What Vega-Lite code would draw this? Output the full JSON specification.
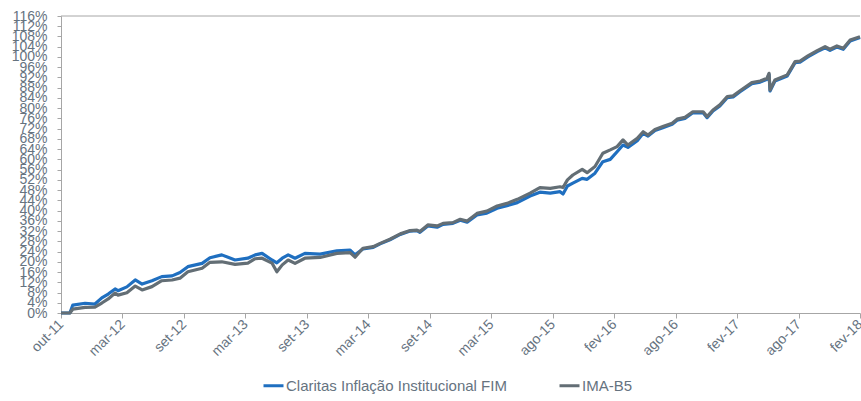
{
  "$schema": "https://vega.github.io/schema/vega-lite/v6.json",
  "width": 799,
  "height": 297,
  "autosize": {"type": "none"},
  "padding": {"left": 61, "top": 16, "right": 1, "bottom": 88},
  "background": "white",
  "config": {
    "view": {"stroke": null},
    "font": "Liberation Sans",
    "axis": {"grid": false, "domainColor": "#a6a6a6", "tickColor": "#a6a6a6", "labelColor": "#66737f", "labelFont": "Liberation Sans", "labelFontSize": 14, "title": null}
  },
  "datasets": {
    "series": [
      {"d": 0, "s": "Claritas Inflação Institucional FIM", "v": 0},
      {"d": 18, "s": "Claritas Inflação Institucional FIM", "v": 0},
      {"d": 24, "s": "Claritas Inflação Institucional FIM", "v": 3.1},
      {"d": 49, "s": "Claritas Inflação Institucional FIM", "v": 3.8},
      {"d": 69, "s": "Claritas Inflação Institucional FIM", "v": 3.5},
      {"d": 83, "s": "Claritas Inflação Institucional FIM", "v": 5.9},
      {"d": 96, "s": "Claritas Inflação Institucional FIM", "v": 7.4},
      {"d": 110, "s": "Claritas Inflação Institucional FIM", "v": 9.4},
      {"d": 116, "s": "Claritas Inflação Institucional FIM", "v": 8.7},
      {"d": 134, "s": "Claritas Inflação Institucional FIM", "v": 10.2},
      {"d": 151, "s": "Claritas Inflação Institucional FIM", "v": 12.9},
      {"d": 165, "s": "Claritas Inflação Institucional FIM", "v": 11.3},
      {"d": 185, "s": "Claritas Inflação Institucional FIM", "v": 12.6},
      {"d": 205, "s": "Claritas Inflação Institucional FIM", "v": 14.2},
      {"d": 226, "s": "Claritas Inflação Institucional FIM", "v": 14.5},
      {"d": 242, "s": "Claritas Inflação Institucional FIM", "v": 15.8},
      {"d": 258, "s": "Claritas Inflação Institucional FIM", "v": 18.1},
      {"d": 287, "s": "Claritas Inflação Institucional FIM", "v": 19.4},
      {"d": 303, "s": "Claritas Inflação Institucional FIM", "v": 21.6},
      {"d": 327, "s": "Claritas Inflação Institucional FIM", "v": 22.7},
      {"d": 354, "s": "Claritas Inflação Institucional FIM", "v": 20.7},
      {"d": 380, "s": "Claritas Inflação Institucional FIM", "v": 21.4},
      {"d": 395, "s": "Claritas Inflação Institucional FIM", "v": 22.7},
      {"d": 409, "s": "Claritas Inflação Institucional FIM", "v": 23.3},
      {"d": 429, "s": "Claritas Inflação Institucional FIM", "v": 20.7},
      {"d": 439, "s": "Claritas Inflação Institucional FIM", "v": 19.6},
      {"d": 450, "s": "Claritas Inflação Institucional FIM", "v": 21.4},
      {"d": 462, "s": "Claritas Inflação Institucional FIM", "v": 22.7},
      {"d": 476, "s": "Claritas Inflação Institucional FIM", "v": 21.4},
      {"d": 496, "s": "Claritas Inflação Institucional FIM", "v": 23.3},
      {"d": 527, "s": "Claritas Inflação Institucional FIM", "v": 23.0},
      {"d": 561, "s": "Claritas Inflação Institucional FIM", "v": 24.3},
      {"d": 588, "s": "Claritas Inflação Institucional FIM", "v": 24.6},
      {"d": 598, "s": "Claritas Inflação Institucional FIM", "v": 22.7},
      {"d": 614, "s": "Claritas Inflação Institucional FIM", "v": 25.0},
      {"d": 635, "s": "Claritas Inflação Institucional FIM", "v": 25.6},
      {"d": 649, "s": "Claritas Inflação Institucional FIM", "v": 27.0},
      {"d": 669, "s": "Claritas Inflação Institucional FIM", "v": 28.6},
      {"d": 690, "s": "Claritas Inflação Institucional FIM", "v": 30.7},
      {"d": 710, "s": "Claritas Inflação Institucional FIM", "v": 32.0},
      {"d": 724, "s": "Claritas Inflação Institucional FIM", "v": 32.2},
      {"d": 730, "s": "Claritas Inflação Institucional FIM", "v": 31.5},
      {"d": 746, "s": "Claritas Inflação Institucional FIM", "v": 34.0},
      {"d": 765, "s": "Claritas Inflação Institucional FIM", "v": 33.5},
      {"d": 777, "s": "Claritas Inflação Institucional FIM", "v": 34.6},
      {"d": 797, "s": "Claritas Inflação Institucional FIM", "v": 35.0},
      {"d": 812, "s": "Claritas Inflação Institucional FIM", "v": 36.2},
      {"d": 826, "s": "Claritas Inflação Institucional FIM", "v": 35.5},
      {"d": 846, "s": "Claritas Inflação Institucional FIM", "v": 38.3},
      {"d": 866, "s": "Claritas Inflação Institucional FIM", "v": 39.0},
      {"d": 887, "s": "Claritas Inflação Institucional FIM", "v": 40.9},
      {"d": 907, "s": "Claritas Inflação Institucional FIM", "v": 41.9},
      {"d": 928, "s": "Claritas Inflação Institucional FIM", "v": 43.1},
      {"d": 954, "s": "Claritas Inflação Institucional FIM", "v": 45.7},
      {"d": 974, "s": "Claritas Inflação Institucional FIM", "v": 47.2},
      {"d": 995, "s": "Claritas Inflação Institucional FIM", "v": 46.8},
      {"d": 1015, "s": "Claritas Inflação Institucional FIM", "v": 47.4},
      {"d": 1021, "s": "Claritas Inflação Institucional FIM", "v": 46.5},
      {"d": 1030, "s": "Claritas Inflação Institucional FIM", "v": 49.6},
      {"d": 1041, "s": "Claritas Inflação Institucional FIM", "v": 50.7},
      {"d": 1060, "s": "Claritas Inflação Institucional FIM", "v": 52.6},
      {"d": 1070, "s": "Claritas Inflação Institucional FIM", "v": 52.2},
      {"d": 1086, "s": "Claritas Inflação Institucional FIM", "v": 54.6},
      {"d": 1102, "s": "Claritas Inflação Institucional FIM", "v": 59.1},
      {"d": 1117, "s": "Claritas Inflação Institucional FIM", "v": 60.0},
      {"d": 1131, "s": "Claritas Inflação Institucional FIM", "v": 63.0},
      {"d": 1143, "s": "Claritas Inflação Institucional FIM", "v": 65.6},
      {"d": 1153, "s": "Claritas Inflação Institucional FIM", "v": 64.7},
      {"d": 1172, "s": "Claritas Inflação Institucional FIM", "v": 67.3},
      {"d": 1184, "s": "Claritas Inflação Institucional FIM", "v": 70.2},
      {"d": 1194, "s": "Claritas Inflação Institucional FIM", "v": 69.1},
      {"d": 1208, "s": "Claritas Inflação Institucional FIM", "v": 71.3},
      {"d": 1224, "s": "Claritas Inflação Institucional FIM", "v": 72.4},
      {"d": 1243, "s": "Claritas Inflação Institucional FIM", "v": 73.7},
      {"d": 1253, "s": "Claritas Inflação Institucional FIM", "v": 75.3},
      {"d": 1269, "s": "Claritas Inflação Institucional FIM", "v": 76.0},
      {"d": 1285, "s": "Claritas Inflação Institucional FIM", "v": 78.2},
      {"d": 1306, "s": "Claritas Inflação Institucional FIM", "v": 78.2},
      {"d": 1314, "s": "Claritas Inflação Institucional FIM", "v": 76.3},
      {"d": 1326, "s": "Claritas Inflação Institucional FIM", "v": 78.9},
      {"d": 1340, "s": "Claritas Inflação Institucional FIM", "v": 80.9},
      {"d": 1355, "s": "Claritas Inflação Institucional FIM", "v": 84.1},
      {"d": 1367, "s": "Claritas Inflação Institucional FIM", "v": 84.4},
      {"d": 1381, "s": "Claritas Inflação Institucional FIM", "v": 86.4},
      {"d": 1405, "s": "Claritas Inflação Institucional FIM", "v": 89.6},
      {"d": 1422, "s": "Claritas Inflação Institucional FIM", "v": 90.2},
      {"d": 1436, "s": "Claritas Inflação Institucional FIM", "v": 91.3},
      {"d": 1440, "s": "Claritas Inflação Institucional FIM", "v": 93.2},
      {"d": 1442, "s": "Claritas Inflação Institucional FIM", "v": 86.7},
      {"d": 1452, "s": "Claritas Inflação Institucional FIM", "v": 90.6},
      {"d": 1477, "s": "Claritas Inflação Institucional FIM", "v": 92.6},
      {"d": 1493, "s": "Claritas Inflação Institucional FIM", "v": 97.8},
      {"d": 1503, "s": "Claritas Inflação Institucional FIM", "v": 98.0},
      {"d": 1519, "s": "Claritas Inflação Institucional FIM", "v": 100.0},
      {"d": 1538, "s": "Claritas Inflação Institucional FIM", "v": 102.1},
      {"d": 1554, "s": "Claritas Inflação Institucional FIM", "v": 103.6},
      {"d": 1564, "s": "Claritas Inflação Institucional FIM", "v": 102.6},
      {"d": 1578, "s": "Claritas Inflação Institucional FIM", "v": 103.9},
      {"d": 1591, "s": "Claritas Inflação Institucional FIM", "v": 103.0},
      {"d": 1605, "s": "Claritas Inflação Institucional FIM", "v": 106.2},
      {"d": 1625, "s": "Claritas Inflação Institucional FIM", "v": 107.6},
      {"d": 0, "s": "IMA-B5", "v": 0},
      {"d": 18, "s": "IMA-B5", "v": 0},
      {"d": 24, "s": "IMA-B5", "v": 1.5},
      {"d": 49, "s": "IMA-B5", "v": 2.2},
      {"d": 69, "s": "IMA-B5", "v": 2.3},
      {"d": 83, "s": "IMA-B5", "v": 3.9},
      {"d": 96, "s": "IMA-B5", "v": 5.5},
      {"d": 110, "s": "IMA-B5", "v": 7.8},
      {"d": 116, "s": "IMA-B5", "v": 7.0},
      {"d": 134, "s": "IMA-B5", "v": 7.9},
      {"d": 151, "s": "IMA-B5", "v": 10.5},
      {"d": 165, "s": "IMA-B5", "v": 9.0},
      {"d": 185, "s": "IMA-B5", "v": 10.3},
      {"d": 205, "s": "IMA-B5", "v": 12.6},
      {"d": 226, "s": "IMA-B5", "v": 12.9},
      {"d": 242, "s": "IMA-B5", "v": 13.6},
      {"d": 258, "s": "IMA-B5", "v": 16.1},
      {"d": 287, "s": "IMA-B5", "v": 17.5},
      {"d": 303, "s": "IMA-B5", "v": 19.8},
      {"d": 327, "s": "IMA-B5", "v": 20.0},
      {"d": 354, "s": "IMA-B5", "v": 19.0},
      {"d": 380, "s": "IMA-B5", "v": 19.5},
      {"d": 395, "s": "IMA-B5", "v": 21.2},
      {"d": 409, "s": "IMA-B5", "v": 21.4},
      {"d": 429, "s": "IMA-B5", "v": 19.5},
      {"d": 439, "s": "IMA-B5", "v": 16.1},
      {"d": 450, "s": "IMA-B5", "v": 18.8},
      {"d": 462, "s": "IMA-B5", "v": 20.7},
      {"d": 476, "s": "IMA-B5", "v": 19.4},
      {"d": 496, "s": "IMA-B5", "v": 21.4},
      {"d": 527, "s": "IMA-B5", "v": 21.7},
      {"d": 561, "s": "IMA-B5", "v": 23.3},
      {"d": 588, "s": "IMA-B5", "v": 23.6},
      {"d": 598, "s": "IMA-B5", "v": 21.8},
      {"d": 614, "s": "IMA-B5", "v": 25.3},
      {"d": 635, "s": "IMA-B5", "v": 25.9},
      {"d": 649, "s": "IMA-B5", "v": 27.2},
      {"d": 669, "s": "IMA-B5", "v": 28.8},
      {"d": 690, "s": "IMA-B5", "v": 30.9},
      {"d": 710, "s": "IMA-B5", "v": 32.2},
      {"d": 724, "s": "IMA-B5", "v": 32.4},
      {"d": 730, "s": "IMA-B5", "v": 31.8},
      {"d": 746, "s": "IMA-B5", "v": 34.4},
      {"d": 765, "s": "IMA-B5", "v": 34.0},
      {"d": 777, "s": "IMA-B5", "v": 35.0},
      {"d": 797, "s": "IMA-B5", "v": 35.3},
      {"d": 812, "s": "IMA-B5", "v": 36.6},
      {"d": 826, "s": "IMA-B5", "v": 35.9},
      {"d": 846, "s": "IMA-B5", "v": 38.9},
      {"d": 866, "s": "IMA-B5", "v": 39.8},
      {"d": 887, "s": "IMA-B5", "v": 41.8},
      {"d": 907, "s": "IMA-B5", "v": 42.8},
      {"d": 928, "s": "IMA-B5", "v": 44.4},
      {"d": 954, "s": "IMA-B5", "v": 46.8},
      {"d": 974, "s": "IMA-B5", "v": 49.0},
      {"d": 995, "s": "IMA-B5", "v": 48.7},
      {"d": 1015, "s": "IMA-B5", "v": 49.3},
      {"d": 1021, "s": "IMA-B5", "v": 49.0},
      {"d": 1030, "s": "IMA-B5", "v": 52.0},
      {"d": 1041, "s": "IMA-B5", "v": 53.9},
      {"d": 1060, "s": "IMA-B5", "v": 56.1},
      {"d": 1070, "s": "IMA-B5", "v": 54.8},
      {"d": 1086, "s": "IMA-B5", "v": 57.2},
      {"d": 1102, "s": "IMA-B5", "v": 62.4},
      {"d": 1117, "s": "IMA-B5", "v": 63.7},
      {"d": 1131, "s": "IMA-B5", "v": 65.0},
      {"d": 1143, "s": "IMA-B5", "v": 67.6},
      {"d": 1153, "s": "IMA-B5", "v": 65.6},
      {"d": 1172, "s": "IMA-B5", "v": 68.2},
      {"d": 1184, "s": "IMA-B5", "v": 70.8},
      {"d": 1194, "s": "IMA-B5", "v": 69.5},
      {"d": 1208, "s": "IMA-B5", "v": 71.7},
      {"d": 1224, "s": "IMA-B5", "v": 72.8},
      {"d": 1243, "s": "IMA-B5", "v": 74.1},
      {"d": 1253, "s": "IMA-B5", "v": 75.7},
      {"d": 1269, "s": "IMA-B5", "v": 76.4},
      {"d": 1285, "s": "IMA-B5", "v": 78.6},
      {"d": 1306, "s": "IMA-B5", "v": 78.6},
      {"d": 1314, "s": "IMA-B5", "v": 76.7},
      {"d": 1326, "s": "IMA-B5", "v": 79.3},
      {"d": 1340, "s": "IMA-B5", "v": 81.3},
      {"d": 1355, "s": "IMA-B5", "v": 84.5},
      {"d": 1367, "s": "IMA-B5", "v": 84.8},
      {"d": 1381, "s": "IMA-B5", "v": 86.8},
      {"d": 1405, "s": "IMA-B5", "v": 90.0},
      {"d": 1422, "s": "IMA-B5", "v": 90.6},
      {"d": 1436, "s": "IMA-B5", "v": 91.7},
      {"d": 1440, "s": "IMA-B5", "v": 93.6},
      {"d": 1442, "s": "IMA-B5", "v": 87.1},
      {"d": 1452, "s": "IMA-B5", "v": 91.0},
      {"d": 1477, "s": "IMA-B5", "v": 93.0},
      {"d": 1493, "s": "IMA-B5", "v": 98.2},
      {"d": 1503, "s": "IMA-B5", "v": 98.4},
      {"d": 1519, "s": "IMA-B5", "v": 100.4},
      {"d": 1538, "s": "IMA-B5", "v": 102.5},
      {"d": 1554, "s": "IMA-B5", "v": 104.0},
      {"d": 1564, "s": "IMA-B5", "v": 103.0},
      {"d": 1578, "s": "IMA-B5", "v": 104.3},
      {"d": 1591, "s": "IMA-B5", "v": 103.4},
      {"d": 1605, "s": "IMA-B5", "v": 106.6},
      {"d": 1625, "s": "IMA-B5", "v": 107.9}
    ],
    "top": [{"v": 116}]
  },
  "layer": [
    {
      "data": {"name": "top"},
      "mark": {"type": "rule", "color": "#a6a6a6", "strokeWidth": 1},
      "encoding": {
        "y": {
          "field": "v", "type": "quantitative",
          "scale": {"domain": [0, 116], "nice": false},
          "axis": {
            "values": [0,4,8,12,16,20,24,28,32,36,40,44,48,52,56,60,64,68,72,76,80,84,88,92,96,100,104,108,112,116],
            "labelExpr": "datum.value + '%'",
            "labelOverlap": false, "labelBound": false, "labelFlush": false, "tickSize": 4, "labelPadding": 10
          }
        }
      }
    },
    {
      "data": {"name": "series"},
      "mark": {"type": "line", "strokeWidth": 3.2, "strokeJoin": "round"},
      "encoding": {
        "x": {
          "field": "d", "type": "quantitative",
          "scale": {"domain": [0, 1625], "nice": false, "zero": false},
          "axis": {
            "values": [0, 125, 250, 375, 500, 625, 750, 875, 1000, 1125, 1250, 1375, 1500, 1625],
            "labelExpr": "['out-11','mar-12','set-12','mar-13','set-13','mar-14','set-14','mar-15','ago-15','fev-16','ago-16','fev-17','ago-17','fev-18'][round(datum.value/125)]",
            "labelAngle": -45, "labelAlign": "right", "labelBaseline": "middle",
            "labelFontSize": 14, "tickSize": 5, "labelPadding": 4, "labelOverlap": false, "labelBound": false, "labelFlush": false
          }
        },
        "y": {
          "field": "v", "type": "quantitative",
          "scale": {"domain": [0, 116], "nice": false},
          "axis": {
            "values": [0,4,8,12,16,20,24,28,32,36,40,44,48,52,56,60,64,68,72,76,80,84,88,92,96,100,104,108,112,116],
            "labelExpr": "datum.value + '%'",
            "labelOverlap": false, "labelBound": false, "labelFlush": false, "tickSize": 4, "labelPadding": 10
          }
        },
        "color": {
          "field": "s", "type": "nominal",
          "scale": {"domain": ["Claritas Inflação Institucional FIM", "IMA-B5"], "range": ["#1f6fc0", "#636e75"]},
          "legend": {
            "title": null, "orient": "none", "direction": "horizontal", "legendX": 201, "legendY": 358,
            "symbolType": "stroke", "symbolSize": 400, "symbolStrokeWidth": 3,
            "labelFontSize": 15, "labelColor": "#66737f", "labelFont": "Liberation Sans", "labelOffset": 1, "labelLimit": 0,
            "columnPadding": 46
          }
        }
      }
    }
  ]
}
